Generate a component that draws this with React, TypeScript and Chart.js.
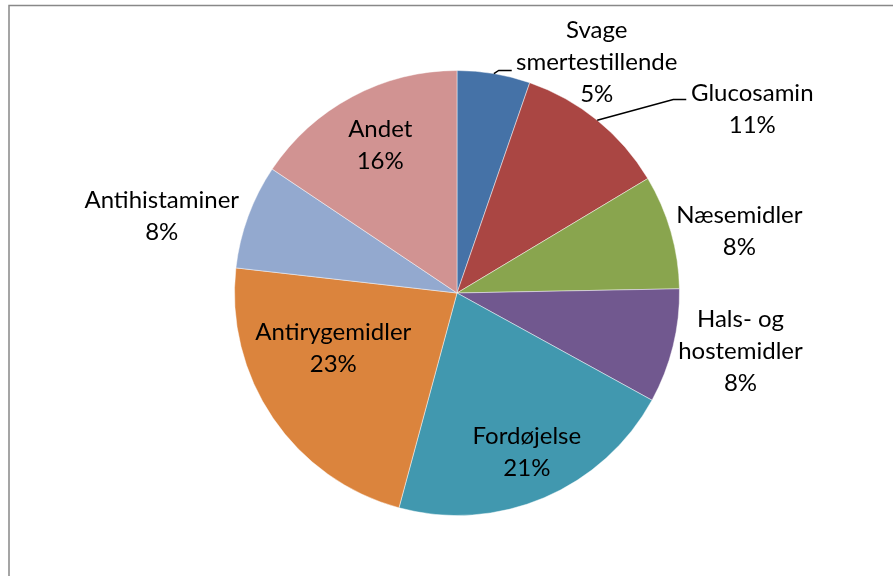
import React, { useEffect, useRef } from "react";
import { Chart, registerables } from "chart.js";

Chart.register(...registerables);

const categories = [
  ["Svage", "smertestillende"],
  ["Glucosamin"],
  ["Næsemidler"],
  ["Hals- og", "hostemidler"],
  ["Fordøjelse"],
  ["Antirygemidler"],
  ["Antihistaminer"],
  ["Andet"],
];
const values = [5.3, 11.1, 8.3, 8.3, 21.2, 22.6, 7.6, 15.6];
const colors = [
  "#4572A7",
  "#AA4643",
  "#89A54E",
  "#71588F",
  "#4198AF",
  "#DB843D",
  "#93A9CF",
  "#D19392",
];

// label block centre, in units of the pie radius, relative to the pie centre
const labelOffsets = [
  [0.628, -1.036],
  [1.327, -0.825],
  [1.269, -0.278],
  [1.274, 0.26],
  [0.314, 0.717],
  [-0.556, 0.247],
  [-1.327, -0.343],
  [-0.345, -0.664],
];
// leader line end (px, relative to label centre) for labels that have one
const leaders: Record<number, [number, number]> = {
  0: [-85, 8],
  1: [-66, -10],
};

const FONT = "24px Lato, 'Open Sans', sans-serif";
const LINE_H = 32;

const labelPlugin = {
  id: "pieLabels",
  afterDatasetsDraw(chart: any) {
    const ctx = chart.ctx;
    const meta = chart.getDatasetMeta(0);
    const total = values.reduce((a, b) => a + b, 0);
    ctx.save();
    ctx.font = FONT;
    ctx.fillStyle = "#000";
    ctx.textAlign = "center";
    ctx.textBaseline = "middle";
    meta.data.forEach((arc: any, i: number) => {
      const cx = arc.x;
      const cy = arc.y;
      const r = arc.outerRadius;
      const lx = cx + labelOffsets[i][0] * r;
      const ly = cy + labelOffsets[i][1] * r;
      const lines = [...categories[i], Math.round((values[i] / total) * 100) + "%"];
      const startY = ly - ((lines.length - 1) * LINE_H) / 2;
      lines.forEach((t, k) => ctx.fillText(t, lx, startY + k * LINE_H));
      const ld = leaders[i];
      if (ld) {
        const mid = (arc.startAngle + arc.endAngle) / 2;
        const ex = cx + Math.cos(mid) * r;
        const ey = cy + Math.sin(mid) * r;
        const endX = lx + ld[0];
        const endY = ly + ld[1];
        ctx.beginPath();
        ctx.strokeStyle = "#000";
        ctx.lineWidth = 1.5;
        ctx.moveTo(ex, ey);
        ctx.lineTo(endX - 13, endY);
        ctx.lineTo(endX, endY);
        ctx.stroke();
      }
    });
    ctx.restore();
  },
};

const framePlugin = {
  id: "frame",
  afterDraw(chart: any) {
    const ctx = chart.ctx;
    ctx.save();
    ctx.strokeStyle = "#888888";
    ctx.lineWidth = 1.5;
    ctx.strokeRect(9, 5.5, 1000, 1000);
    ctx.restore();
  },
};

export default function App() {
  const ref = useRef<HTMLCanvasElement>(null);
  useEffect(() => {
    if (!ref.current) return;
    const chart = new Chart(ref.current, {
      type: "pie",
      data: {
        labels: categories.map((c) => c.join(" ")),
        datasets: [
          {
            data: values,
            backgroundColor: colors,
            borderColor: "rgba(255,255,255,0.45)",
            borderWidth: 1,
          },
        ],
      },
      options: {
        responsive: false,
        animation: false,
        layout: { padding: { left: 234, right: 213, top: 70, bottom: 60 } },
        plugins: {
          legend: { display: false },
          tooltip: { enabled: false },
        },
      },
      plugins: [labelPlugin, framePlugin],
    });
    return () => chart.destroy();
  }, []);
  return (
    <div style={{ position: "fixed", left: 0, top: 0, width: 893, height: 576, background: "#fff" }}>
      <canvas ref={ref} width={893} height={576} style={{ width: 893, height: 576 }} />
    </div>
  );
}
